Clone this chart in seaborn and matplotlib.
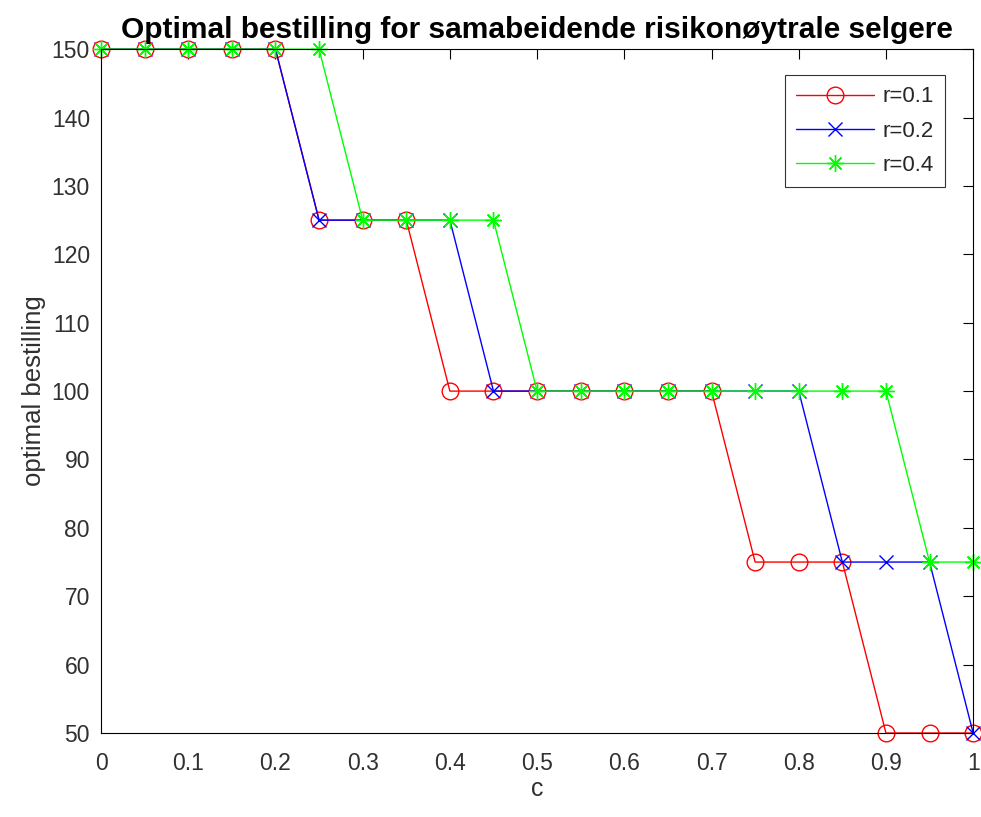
import matplotlib
matplotlib.use("Agg")
import matplotlib.pyplot as plt
import seaborn as sns
import pandas as pd

c = [0, 0.05, 0.1, 0.15, 0.2, 0.25, 0.3, 0.35, 0.4, 0.45, 0.5,
     0.55, 0.6, 0.65, 0.7, 0.75, 0.8, 0.85, 0.9, 0.95, 1.0]
r01 = [150, 150, 150, 150, 150, 125, 125, 125, 100, 100, 100,
       100, 100, 100, 100, 75, 75, 75, 50, 50, 50]
r02 = [150, 150, 150, 150, 150, 125, 125, 125, 125, 100, 100,
       100, 100, 100, 100, 100, 100, 75, 75, 75, 50]
r04 = [150, 150, 150, 150, 150, 150, 125, 125, 125, 125, 100,
       100, 100, 100, 100, 100, 100, 100, 100, 75, 75]
labels = ["r=0.1", "r=0.2", "r=0.4"]

sns.set_style("white")
plt.rcParams['font.family'] = ['Liberation Sans', 'DejaVu Sans']

fig = plt.figure(figsize=(9.81, 8.17), dpi=100)
ax = fig.add_axes([0.103, 0.1028, 0.889, 0.837])

styles = [("red", "o", r01), ("blue", "x", r02), ("#00ff00", (8, 2, 0), r04)]
for (col, mk, vals), lab in zip(styles, labels):
    df = pd.DataFrame({"c": c, "v": vals})
    if mk == "o":
        kw = dict(markerfacecolor="none", markersize=12, markeredgewidth=1.0)
    elif mk == "x":
        kw = dict(markersize=9.5, markeredgewidth=1.0)
    else:
        kw = dict(markersize=12, markeredgewidth=1.0)
    sns.lineplot(data=df, x="c", y="v", ax=ax, color=col, marker=mk,
                 markeredgecolor=col, linewidth=1.0, label=lab, clip_on=False, **kw)

ax.set_xlim(0, 1)
ax.set_ylim(50, 150)
ax.set_xticks([0, 0.1, 0.2, 0.3, 0.4, 0.5, 0.6, 0.7, 0.8, 0.9, 1])
ax.set_xticklabels(["0", "0.1", "0.2", "0.3", "0.4", "0.5", "0.6", "0.7", "0.8", "0.9", "1"])
ax.set_yticks(range(50, 151, 10))
ax.tick_params(direction="in", length=7, width=0.8, top=True, right=True,
               labelsize=16.5, colors="black", labelcolor="#303030")
ax.tick_params(axis="x", pad=14)
ax.tick_params(axis="y", pad=8)
for s in ax.spines.values():
    s.set_color("black")
    s.set_linewidth(0.8)
    s.set_visible(True)
ax.set_xlabel("c", fontsize=18, color="#303030", labelpad=1)
ax.set_ylabel("optimal bestilling", fontsize=18.5, color="#303030", labelpad=4)
ax.set_title("Optimal bestilling for samabeidende risikonøytrale selgere",
             fontsize=21.5, fontweight="bold", color="black", pad=8)
leg = ax.legend(loc="upper right", fontsize=16, frameon=True, fancybox=False,
                edgecolor="black", borderpad=0.5, handlelength=3.5,
                labelspacing=0.6, handletextpad=0.4,
                bbox_to_anchor=(0.968, 0.962), borderaxespad=0)
leg.get_frame().set_linewidth(0.8)
fig.savefig("out.png", dpi=100)
